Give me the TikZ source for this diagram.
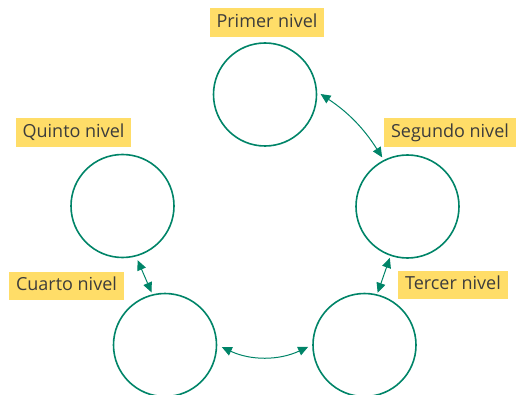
\documentclass[tikz,border=0pt]{standalone}
\usepackage{fontspec}
\setmainfont{Open Sans}
\usetikzlibrary{arrows.meta}
\definecolor{lvlgreen}{RGB}{0,132,104}
\definecolor{lvlyellow}{RGB}{255,221,104}
\definecolor{lvltext}{RGB}{60,60,60}

\begin{document}
\begin{tikzpicture}[x=1pt, y=-1pt,
  >={Triangle[length=10pt,width=9pt]},
  lvl/.style={circle, draw=lvlgreen, line width=1.6pt, minimum size=103pt, inner sep=0pt},
  tag/.style={fill=lvlyellow, text=lvltext, font=\fontsize{18}{20}\selectfont,
    inner xsep=7pt, text height=13.5pt, text depth=4pt, minimum height=28.5pt},
  link/.style={<->, draw=lvlgreen, line width=1pt}]
  \useasboundingbox (0,0) rectangle (518,395);
  % the five levels
  \node[lvl] (primer)  at (265,94.5) {};
  \node[lvl] (segundo) at (407.5,206.5) {};
  \node[lvl] (tercer)  at (364.5,345) {};
  \node[lvl] (cuarto)  at (165,345) {};
  \node[lvl] (quinto)  at (122.5,206) {};
  % labels
  \node[tag] (tprimer)  at (267,22.5)  {Primer nivel};
  \node[tag] (tsegundo) at (450,132.5) {Segundo nivel};
  \node[tag] (ttercer)  at (453,285)   {Tercer nivel};
  \node[tag] (tcuarto)  at (66.5,286)  {Cuarto nivel};
  \node[tag] (tquinto)  at (73.5,132.5) {Quinto nivel};
  % links between levels
  \draw[link, shorten <=4pt, shorten >=3pt] (primer.3) to[bend left=12] (segundo.117);
  \draw[link, shorten <=2pt, shorten >=1.5pt] (segundo.251) -- (tercer.76);
  \draw[link, shorten <=4pt, shorten >=2pt] (quinto.-75) -- (cuarto.104);
  \draw[link, shorten <=5pt, shorten >=4.5pt] (cuarto.0) to[bend right=25] (tercer.180);
\end{tikzpicture}
\end{document}
